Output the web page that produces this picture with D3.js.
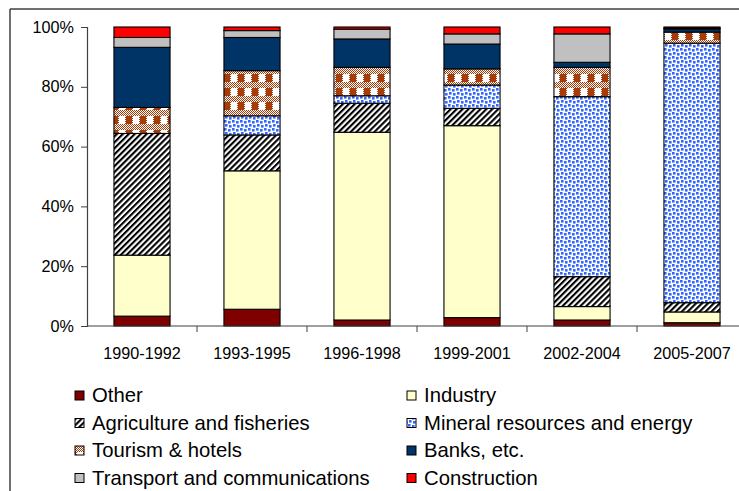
<!DOCTYPE html>
<html>
<head>
<meta charset="utf-8">
<script src="https://cdn.jsdelivr.net/npm/d3@7"></script>
<style>
  html, body { margin: 0; padding: 0; background: #fff; }
  svg { display: block; font-family: "Liberation Sans", Arial, sans-serif; }
</style>
</head>
<body>
<svg id="chart" width="739" height="491"></svg>
<script>
// ---- data ----
const periods = ["1990-1992", "1993-1995", "1996-1998", "1999-2001", "2002-2004", "2005-2007"];
const sectors = ["Other", "Industry", "Agriculture and fisheries", "Mineral resources and energy",
                 "Tourism & hotels", "Banks, etc.", "Transport and communications", "Construction"];
const other        = [3.3, 5.6, 2.0, 2.8, 2.0, 1.1];
const industry     = [20.4, 46.3, 62.8, 64.2, 4.5, 3.6];
const agriculture  = [40.7, 12.0, 9.7, 5.8, 10.0, 3.1];
const mineral      = [0.0, 6.4, 2.5, 7.8, 60.2, 86.8];
const tourism      = [8.7, 15.1, 9.5, 5.4, 9.8, 3.7];
const banks        = [20.1, 11.1, 9.5, 8.3, 1.7, 1.0];
const transport    = [3.3, 2.3, 3.3, 3.4, 9.5, 0.3];
const construction = [3.5, 1.2, 0.7, 2.3, 2.3, 0.4];
const yTicks = [0, 20, 40, 60, 80, 100];
// legend layout order (two columns)
const legendLeft  = ["Other", "Agriculture and fisheries", "Tourism & hotels", "Transport and communications"];
const legendRight = ["Industry", "Mineral resources and energy", "Banks, etc.", "Construction"];

const seriesArrays = [other, industry, agriculture, mineral, tourism, banks, transport, construction];
const table = periods.map((p, i) => {
  const row = { period: p };
  sectors.forEach((s, k) => row[s] = seriesArrays[k][i]);
  return row;
});

const svg = d3.select("#chart");
const defs = svg.append("defs");

// ---- patterns ----
// Agriculture: wide diagonal stripes
const pAg = defs.append("pattern").attr("id", "pAg").attr("patternUnits", "userSpaceOnUse")
  .attr("width", 4.2).attr("height", 4.2).attr("patternTransform", "rotate(45)");
pAg.append("rect").attr("width", 4.2).attr("height", 4.2).attr("fill", "#fff");
pAg.append("rect").attr("width", 2.1).attr("height", 4.2).attr("fill", "#000");

// Mineral: confetti blue squares
const pMin = defs.append("pattern").attr("id", "pMin").attr("patternUnits", "userSpaceOnUse")
  .attr("width", 8).attr("height", 8);
pMin.append("rect").attr("width", 8).attr("height", 8).attr("fill", "#fff");
[[0, 0], [4, 1], [1, 4], [5, 5]].forEach(([x, y]) =>
  pMin.append("rect").attr("x", x).attr("y", y).attr("width", 2.6).attr("height", 2.6)
    .attr("fill", "#3366FF"));

// Tourism: plaid brown/white
const pChk = defs.append("pattern").attr("id", "pChk").attr("patternUnits", "userSpaceOnUse")
  .attr("width", 2).attr("height", 2);
pChk.append("rect").attr("width", 2).attr("height", 2).attr("fill", "#fff");
pChk.append("rect").attr("width", 1).attr("height", 1).attr("fill", "#A63C0A");
pChk.append("rect").attr("x", 1).attr("y", 1).attr("width", 1).attr("height", 1).attr("fill", "#A63C0A");
const pTour = defs.append("pattern").attr("id", "pTour").attr("patternUnits", "userSpaceOnUse")
  .attr("width", 14).attr("height", 14);
pTour.append("rect").attr("width", 14).attr("height", 14).attr("fill", "url(#pChk)");
pTour.append("rect").attr("x", 0).attr("y", 4).attr("width", 6).attr("height", 8).attr("fill", "#A63C0A");
pTour.append("rect").attr("x", 7).attr("y", 4).attr("width", 6).attr("height", 8).attr("fill", "#fff");

const fills = {
  "Other": "#800000",
  "Industry": "#FFFFCC",
  "Agriculture and fisheries": "url(#pAg)",
  "Mineral resources and energy": "url(#pMin)",
  "Tourism & hotels": "url(#pTour)",
  "Banks, etc.": "#003366",
  "Transport and communications": "#C0C0C0",
  "Construction": "#FF0000"
};

// ---- frame ----
svg.append("line").attr("x1", 10).attr("x2", 739).attr("y1", 9).attr("y2", 9)
  .attr("stroke", "#404040").attr("stroke-width", 1.5);
svg.append("line").attr("x1", 10).attr("x2", 10).attr("y1", 9).attr("y2", 491)
  .attr("stroke", "#404040").attr("stroke-width", 1.5);

// ---- scales ----
const x = d3.scaleBand().domain(periods).range([87, 747]).paddingInner(0.49).paddingOuter(0.245);
const xb = d3.scaleBand().domain(periods).range([87, 747]);
const y = d3.scaleLinear().domain([0, 100]).range([326, 27]);

const stack = d3.stack().keys(sectors);
const layers = stack(table);

const g = svg.append("g");
layers.forEach(layer => {
  g.append("g").selectAll("rect").data(layer).join("rect")
    .attr("x", d => x(d.data.period))
    .attr("width", x.bandwidth())
    .attr("y", d => y(d[1]))
    .attr("height", d => Math.max(0, y(d[0]) - y(d[1])))
    .attr("fill", fills[layer.key])
    .attr("stroke", "#000")
    .attr("stroke-width", 1.1);
});

// ---- axes ----
const yAxis = svg.append("g").attr("transform", "translate(87,0)")
  .call(d3.axisLeft(y).tickValues(yTicks).tickFormat(d => d + "%").tickSize(6).tickPadding(7));
const xAxis = svg.append("g").attr("transform", "translate(0,326)")
  .call(d3.axisBottom(xb).tickSize(0).tickPadding(21));
// boundary tick marks between categories
svg.append("g").selectAll("line").data(periods.slice(1)).join("line")
  .attr("x1", d => xb(d)).attr("x2", d => xb(d)).attr("y1", 326).attr("y2", 332)
  .attr("stroke", "#404040");
[yAxis, xAxis].forEach(a => {
  a.select(".domain").attr("stroke", "#404040").attr("stroke-width", 1.2);
  a.selectAll(".tick line").attr("stroke", "#404040");
  a.selectAll("text").attr("font-size", 16.2).attr("fill", "#000")
    .attr("font-family", "Liberation Sans, Arial, sans-serif");
});
xAxis.select(".domain").attr("d", "M87,0H739");

// ---- legend ----
const legRowY = [395, 422.5, 450, 477.5];
function drawLegend(items, sx, tx) {
  items.forEach((name, i) => {
    svg.append("rect").attr("x", sx).attr("y", legRowY[i] - 4).attr("width", 9).attr("height", 9)
      .attr("fill", fills[name]).attr("stroke", "#000").attr("stroke-width", 1);
    svg.append("text").attr("x", tx).attr("y", legRowY[i] + 7).text(name)
      .attr("font-size", 20.3).attr("fill", "#000");
  });
}
drawLegend(legendLeft, 75, 92);
drawLegend(legendRight, 407, 424);
</script>
</body>
</html>
